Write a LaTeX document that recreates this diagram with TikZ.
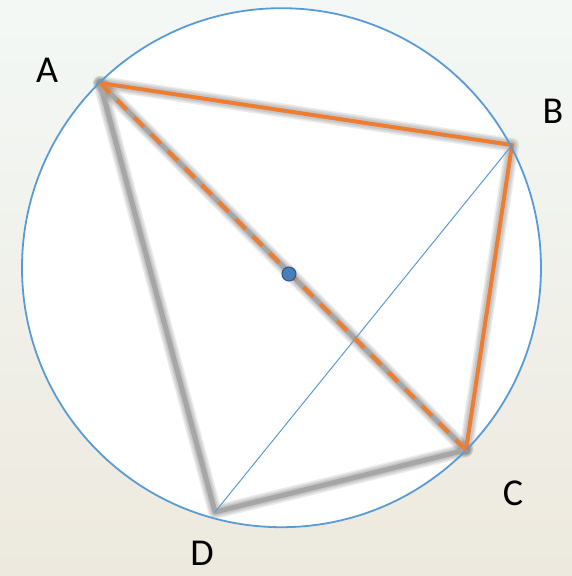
\documentclass[tikz,border=0pt]{standalone}
\usepackage{fontspec}
\setmainfont{Carlito}
\definecolor{bgtop}{RGB}{243,248,246}
\definecolor{bgbot}{RGB}{237,233,222}
\definecolor{circblue}{RGB}{91,155,213}
\definecolor{dotfill}{RGB}{74,126,187}
\definecolor{dotedge}{RGB}{47,85,140}
\definecolor{orangeln}{RGB}{237,125,49}
\definecolor{grayln}{RGB}{166,166,166}
\tikzset{
  glow/.style={draw=black, line width=#1, draw opacity=0.08, line cap=round, line join=round},
  grayedge/.style={draw=grayln, line width=5pt, line join=round},
  orangeedge/.style={draw=orangeln, line width=4pt, line join=round},
  orangedash/.style={draw=orangeln, line width=4pt, dash pattern=on 14pt off 10pt},
  thinblue/.style={draw=circblue, line width=1pt},
  rim/.style={draw=circblue, line width=1.8pt},
  vlabel/.style={font=\fontsize{38}{40}\selectfont, text=black, inner sep=0pt},
  centredot/.style={circle, fill=dotfill, draw=dotedge, line width=1pt, minimum size=14pt, inner sep=0pt}
}
\begin{document}
\begin{tikzpicture}[x=1pt, y=-1pt]
\useasboundingbox (0,0) rectangle (572,576);
\fill[top color=bgtop, bottom color=bgbot] (0,0) rectangle (572,576);
\coordinate (M) at (281.5,267.7);
\fill[white] (M) circle (259.5);
\coordinate (A) at (100,83);
\coordinate (B) at (512,145);
\coordinate (C) at (466,450);
\coordinate (D) at (215,512);
\coordinate (O) at (289,274);
% soft shadows
\begin{scope}[shift={(-1.5,-1.5)}]
\foreach \w in {14,11,8} {
  \draw[glow=\w pt] (A) -- (B) -- (C) -- (D) -- cycle;
  \draw[glow=\w pt] (A) -- (C);
}
\end{scope}
% gray edges
\draw[grayedge] (A) -- (D) -- (C) -- cycle;
% orange edges
\draw[orangeedge] (A) -- (B) -- (C);
% circle
\draw[rim] (M) circle (259.5);
% diagonal BD
\draw[thinblue] (B) -- (D);
% dashed diameter
\draw[orangedash] (A) -- (C);
\node[centredot] (Odot) at (O) {};
% labels
\node[vlabel] (LA) at (47,70) {A};
\node[vlabel] (LB) at (553,111) {B};
\node[vlabel] (LC) at (513,493) {C};
\node[vlabel] (LD) at (202,553) {D};
\end{tikzpicture}
\end{document}
